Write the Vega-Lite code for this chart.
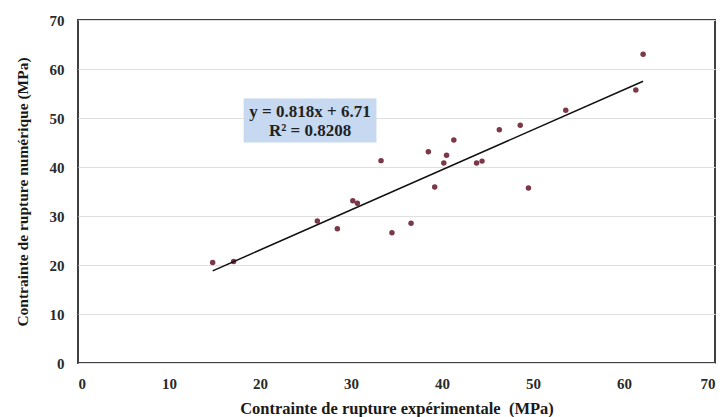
{
  "$schema": "https://vega.github.io/schema/vega-lite/v6.json",
  "autosize": "none",
  "width": 637,
  "height": 343,
  "padding": {"left": 78, "top": 20, "right": 12, "bottom": 54},
  "background": "white",
  "config": {
    "view": {"stroke": "#404040", "strokeWidth": 2},
    "font": "Liberation Serif",
    "axis": {
      "labelFont": "Liberation Serif",
      "labelFontWeight": "bold",
      "labelFontSize": 15,
      "labelColor": "#2a2a2a",
      "titleFont": "Liberation Serif",
      "titleFontWeight": "bold",
      "titleColor": "#1a1a1a",
      "ticks": false,
      "domain": false,
      "gridColor": "#e0e0e0",
      "gridWidth": 1
    }
  },
  "datasets": {
    "pts": [
      {"exp": 14.8, "num": 20.5},
      {"exp": 17.1, "num": 20.7},
      {"exp": 26.3, "num": 29.0},
      {"exp": 28.5, "num": 27.4},
      {"exp": 30.2, "num": 33.1},
      {"exp": 30.7, "num": 32.6},
      {"exp": 33.3, "num": 41.3},
      {"exp": 34.5, "num": 26.6},
      {"exp": 36.6, "num": 28.5},
      {"exp": 38.5, "num": 43.1},
      {"exp": 39.2, "num": 35.9},
      {"exp": 40.2, "num": 40.8},
      {"exp": 40.5, "num": 42.4},
      {"exp": 41.3, "num": 45.5},
      {"exp": 43.8, "num": 40.8},
      {"exp": 44.4, "num": 41.2},
      {"exp": 46.3, "num": 47.6},
      {"exp": 48.6, "num": 48.5},
      {"exp": 49.5, "num": 35.7},
      {"exp": 53.6, "num": 51.6},
      {"exp": 61.3, "num": 55.7},
      {"exp": 62.1, "num": 63.0}
    ],
    "fit": [
      {"exp": 14.8, "num": 18.8},
      {"exp": 62.1, "num": 57.5}
    ],
    "eq": [
      {"x": 18.2, "x2": 32.8, "y": 45.0, "y2": 54.0, "l1": "y = 0.818x + 6.71", "l2": "R² = 0.8208", "xc": 25.5, "ya": 51.2, "yb": 47.3}
    ]
  },
  "layer": [
    {
      "data": {"name": "pts"},
      "mark": {"type": "point", "filled": true, "size": 30, "color": "#7a3848", "opacity": 1},
      "encoding": {
        "x": {"field": "exp", "type": "quantitative", "scale": {"domain": [0, 70], "nice": false},
          "axis": {"values": [0, 10, 20, 30, 40, 50, 60, 70], "grid": false, "labelPadding": 13, "title": "Contrainte de rupture expérimentale\u00a0 (MPa)", "titleFontSize": 16.5, "titlePadding": 9}},
        "y": {"field": "num", "type": "quantitative", "scale": {"domain": [0, 70], "nice": false},
          "axis": {"values": [0, 10, 20, 30, 40, 50, 60, 70], "grid": true, "labelPadding": 14, "title": "Contrainte de rupture numérique (MPa)", "titleFontSize": 15.5, "titlePadding": 19}}
      }
    },
    {
      "data": {"name": "fit"},
      "mark": {"type": "line", "color": "#111111", "strokeWidth": 1.5},
      "encoding": {
        "x": {"field": "exp", "type": "quantitative"},
        "y": {"field": "num", "type": "quantitative"}
      }
    },
    {
      "data": {"name": "eq"},
      "mark": {"type": "rect", "color": "#c6d9f0"},
      "encoding": {
        "x": {"field": "x", "type": "quantitative"},
        "x2": {"field": "x2"},
        "y": {"field": "y", "type": "quantitative"},
        "y2": {"field": "y2"}
      }
    },
    {
      "data": {"name": "eq"},
      "mark": {"type": "text", "font": "Liberation Serif", "fontWeight": "bold", "fontSize": 17, "color": "#222222", "align": "center", "baseline": "middle"},
      "encoding": {
        "x": {"field": "xc", "type": "quantitative"},
        "y": {"field": "ya", "type": "quantitative"},
        "text": {"field": "l1"}
      }
    },
    {
      "data": {"name": "eq"},
      "mark": {"type": "text", "font": "Liberation Serif", "fontWeight": "bold", "fontSize": 17, "color": "#222222", "align": "center", "baseline": "middle"},
      "encoding": {
        "x": {"field": "xc", "type": "quantitative"},
        "y": {"field": "yb", "type": "quantitative"},
        "text": {"field": "l2"}
      }
    }
  ]
}
